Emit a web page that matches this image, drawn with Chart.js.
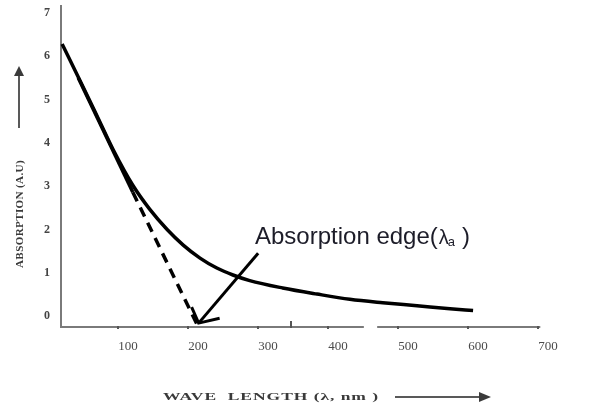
<!DOCTYPE html>
<html>
<head>
<meta charset="utf-8">
<script src="https://cdn.jsdelivr.net/npm/chart.js@4.4.1/dist/chart.umd.min.js"></script>
<style>
  html, body { margin: 0; padding: 0; background: #fff; }
  #wrap { width: 592px; height: 408px; }
</style>
</head>
<body>
<div id="wrap"><canvas id="absChart"></canvas></div>
<script>
// ---- Values ----
const waveLength = [6, 36, 60, 79, 107, 131, 156, 179, 203, 227, 250, 274, 321, 370, 417, 464, 513, 560, 593];
const absorption = [6.28, 5.29, 4.48, 3.84, 3.02, 2.47, 2.0, 1.64, 1.34, 1.11, 0.95, 0.82, 0.65, 0.51, 0.39, 0.31, 0.24, 0.17, 0.13];

// tangent to the steep part, dashed where it is extrapolated to the edge
const tangentX = [29, 107, 199];
const tangentY = [5.5, 2.86, -0.2];

// annotation arrow: shaft, then the two barbs at the tip
const arrowX = [286, 201];
const arrowY = [1.45, -0.16];
const barbX = [191, 201, 231];
const barbY = [0.21, -0.16, -0.05];

const xTicks = [100, 200, 300, 400, 500, 600, 700];
const yTicks = [0, 1, 2, 3, 4, 5, 6, 7];
const xMarks = [86, 186, 286, 386, 486, 586, 686];
const xBigMark = 333;
const xBreak = [437, 456];

const yTitle = 'ABSORPTION (A.U)';
const xTitle = 'WAVE  LENGTH (\u03bb, nm )';
const noteText = 'Absorption edge(';

const toPoints = (xs, ys) => xs.map((x, i) => ({ x: x, y: ys[i] }));

// draw a string stretched sideways so it fills a given width
function wideText(ctx, text, x, y, width, spacing) {
  ctx.letterSpacing = spacing + 'px';
  const w = ctx.measureText(text).width;
  ctx.save();
  ctx.translate(x, y);
  ctx.scale(width / w, 1);
  ctx.fillText(text, 0, 0);
  ctx.restore();
  ctx.letterSpacing = '0px';
}

// ---- Axes, titles and the note are drawn by hand (broken x axis) ----
const figurePlugin = {
  id: 'figure',
  beforeDatasetsDraw(chart) {
    const { ctx, chartArea: a, scales: { x } } = chart;
    ctx.save();
    ctx.strokeStyle = '#7a7a7a';
    ctx.lineWidth = 2;
    ctx.beginPath();
    ctx.moveTo(a.left + 1, a.top);
    ctx.lineTo(a.left + 1, a.bottom + 1);
    ctx.moveTo(a.left, a.bottom);
    ctx.lineTo(x.getPixelForValue(xBreak[0]), a.bottom);
    ctx.moveTo(x.getPixelForValue(xBreak[1]), a.bottom);
    ctx.lineTo(x.getPixelForValue(689), a.bottom);
    ctx.stroke();

    // tiny tick dots
    ctx.fillStyle = '#555';
    xMarks.forEach(v => {
      ctx.fillRect(Math.round(x.getPixelForValue(v)) - 1, a.bottom - 1, 2, 3);
    });
    ctx.fillRect(Math.round(x.getPixelForValue(xBigMark)) - 1, a.bottom - 6, 2, 7);
    ctx.restore();
  },
  afterDraw(chart) {
    const { ctx } = chart;
    ctx.save();
    ctx.fillStyle = '#3a3a3a';
    ctx.strokeStyle = '#222';
    ctx.textAlign = 'left';
    ctx.textBaseline = 'middle';

    // y title, reading bottom to top
    ctx.save();
    ctx.translate(20, 214);
    ctx.rotate(-Math.PI / 2);
    ctx.font = 'bold 10px "Liberation Serif"';
    wideText(ctx, yTitle, -54, 0, 108, 0.3);
    ctx.restore();

    // up arrow above it
    ctx.lineWidth = 1.5;
    ctx.beginPath();
    ctx.moveTo(19, 128);
    ctx.lineTo(19, 74);
    ctx.stroke();
    ctx.beginPath();
    ctx.moveTo(19, 66);
    ctx.lineTo(14, 76);
    ctx.lineTo(24, 76);
    ctx.closePath();
    ctx.fill();

    // x title
    ctx.font = 'bold 11px "Liberation Serif"';
    wideText(ctx, xTitle, 163, 397, 216, 0.6);

    // right arrow next to it
    ctx.beginPath();
    ctx.moveTo(395, 397);
    ctx.lineTo(482, 397);
    ctx.stroke();
    ctx.beginPath();
    ctx.moveTo(491, 397);
    ctx.lineTo(479, 392);
    ctx.lineTo(479, 402);
    ctx.closePath();
    ctx.fill();

    // note: Absorption edge(λa )
    ctx.fillStyle = '#1c1c28';
    ctx.textBaseline = 'alphabetic';
    ctx.font = '24px "Liberation Sans"';
    let px = 255;
    const base = 244;
    ctx.fillText(noteText, px, base);
    px += ctx.measureText(noteText).width + 1;
    ctx.font = '20px "Liberation Sans"';
    ctx.fillText('\u03bb', px, base);
    px += ctx.measureText('\u03bb').width - 1;
    ctx.font = '13px "Liberation Sans"';
    ctx.fillText('a', px, base + 2);
    px += ctx.measureText('a').width + 7;
    ctx.font = '24px "Liberation Sans"';
    ctx.fillText(')', px, base);
    ctx.restore();
  }
};

new Chart(document.getElementById('absChart'), {
  type: 'line',
  data: {
    datasets: [
      {
        label: 'Absorption',
        data: toPoints(waveLength, absorption),
        borderColor: '#000',
        borderWidth: 3.5,
        cubicInterpolationMode: 'monotone',
        pointRadius: 0,
        fill: false
      },
      {
        label: 'Tangent',
        data: toPoints(tangentX, tangentY),
        borderColor: '#000',
        borderWidth: 3.5,
        pointRadius: 0,
        segment: {
          borderDash: c => (c.p0DataIndex === 1 ? [10, 7] : undefined)
        }
      },
      {
        label: 'Arrow',
        data: toPoints(arrowX, arrowY),
        borderColor: '#000',
        borderWidth: 3,
        pointRadius: 0
      },
      {
        label: 'Arrow head',
        data: toPoints(barbX, barbY),
        borderColor: '#000',
        borderWidth: 3,
        pointRadius: 0
      }
    ]
  },
  options: {
    responsive: true,
    maintainAspectRatio: false,
    animation: false,
    layout: { padding: { top: 5, right: 44, left: 0, bottom: 0 } },
    plugins: {
      legend: { display: false },
      tooltip: { enabled: false }
    },
    scales: {
      x: {
        type: 'linear',
        min: 3,
        max: 700,
        afterBuildTicks: s => { s.ticks = xTicks.map(v => ({ value: v })); },
        afterFit: s => {
          s.height = 81;
          s.paddingLeft = 0;
          s.paddingRight = 0;
        },
        grid: { display: false, drawTicks: false },
        border: { display: false },
        ticks: {
          padding: 12,
          color: '#4a4a4a',
          font: { family: 'Liberation Serif', size: 13 }
        }
      },
      y: {
        type: 'linear',
        min: -0.25,
        max: 7.18,
        afterBuildTicks: s => { s.ticks = yTicks.map(v => ({ value: v })); },
        afterFit: s => {
          s.width = 60;
          s.paddingTop = 0;
          s.paddingBottom = 0;
        },
        grid: { display: false, drawTicks: false },
        border: { display: false },
        ticks: {
          padding: 10,
          color: '#444',
          font: { family: 'Liberation Serif', size: 12, weight: 'bold' }
        }
      }
    }
  },
  plugins: [figurePlugin]
});
</script>
</body>
</html>
